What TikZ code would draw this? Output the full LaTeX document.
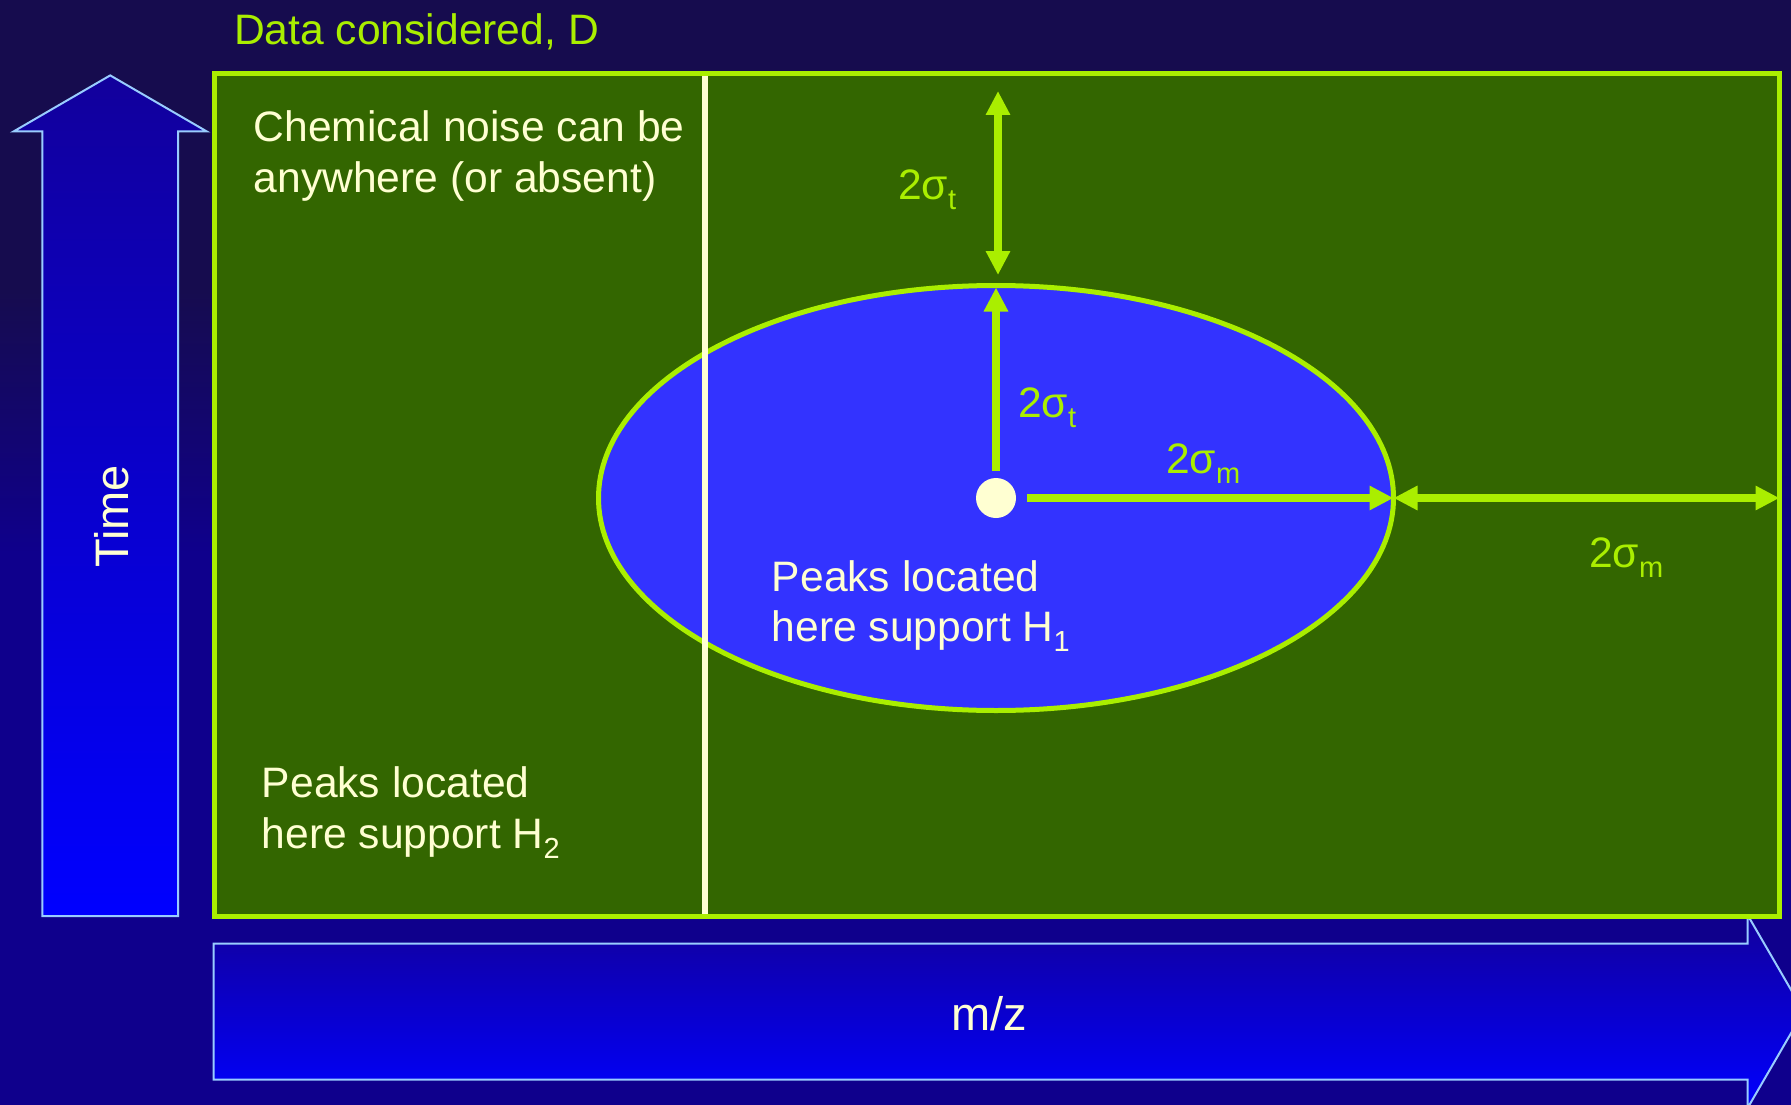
\documentclass[tikz,border=0pt]{standalone}
\usepackage{fontspec}
\setmainfont{Liberation Sans}
\usetikzlibrary{arrows.meta,shapes.geometric,calc}

\definecolor{bgtop}{HTML}{160C4E}
\definecolor{bgbot}{HTML}{0F008C}
\definecolor{plotgreen}{HTML}{336600}
\definecolor{lime}{HTML}{AAEE00}
\definecolor{peakblue}{HTML}{3333FF}
\definecolor{cream}{HTML}{FFFFD2}
\definecolor{axisedge}{HTML}{99CCFF}
\definecolor{axistop}{HTML}{12009C}
\definecolor{axisbot}{HTML}{0000FF}

% backdrop: dark violet above, deep blue below
\pgfdeclareverticalshading{backdrop}{100bp}{%
  color(0bp)=(bgbot); color(25bp)=(bgbot); color(50bp)=(bgbot);
  color(62bp)=(bgtop); color(75bp)=(bgtop); color(100bp)=(bgtop)}

% lowered subscript used in the labels
\newcommand\lowsub[2][29]{\raisebox{-10pt}{\fontsize{#1}{#1}\selectfont #2}}

\begin{document}
\begin{tikzpicture}[x=1pt,y=-1pt,
  axisarrow/.style={draw=axisedge, line width=2, top color=axistop, bottom color=axisbot},
  axislabel/.style={inner sep=0, text=cream, font=\fontsize{47}{56}\selectfont},
  bodytext/.style={inner sep=0, anchor=base west, text=cream, font=\fontsize{42.6}{51}\selectfont},
  limetext/.style={inner sep=0, anchor=base west, text=lime, font=\fontsize{42.6}{51}\selectfont},
  dimline/.style={draw=lime, line width=8, arrows={-Triangle[length=24,width=23]}},
  dimboth/.style={draw=lime, line width=8, arrows={Triangle[length=24,width=23]-Triangle[length=24,width=23]}},
  divider/.style={draw=cream, line width=6}]

\useasboundingbox (0,0) rectangle (1791,1105);
\clip (0,0) rectangle (1791,1105);
\fill[shading=backdrop] (0,0) rectangle (1791,1105);

% axis arrows
\path[axisarrow] (42.3,916) -- (42.3,131.4) -- (13.7,131.4) -- (110.2,75.4)
  -- (206.7,131.4) -- (178.2,131.4) -- (178.2,916) -- cycle;
\path[axisarrow] (213.6,943.5) -- (1747.6,943.5) -- (1747.6,915) -- (1803.6,1011.5)
  -- (1747.6,1108) -- (1747.6,1079.5) -- (213.6,1079.5) -- cycle;
\node[axislabel, rotate=90, anchor=base] (timelabel) at (128,516.5) {Time};
\node[axislabel, anchor=base] (mzlabel) at (989,1030) {m/z};

% data region
\node[limetext] (datatitle) at (234,45) {Data considered, D};
\node[draw=lime, line width=5, fill=plotgreen, rectangle, minimum width=1565,
  minimum height=843, inner sep=0, outer sep=0] (data) at (997,495) {};

% peak region
\node[ellipse, draw=lime, line width=5, fill=peakblue, minimum width=795,
  minimum height=425, inner sep=0, outer sep=0] (peak) at (996,498) {};

% boundary of the chemical noise strip
\coordinate (divtop) at (705,76);
\coordinate (divbot) at (705,914);
\draw[divider] (divtop) -- (divbot);

% peak centre
\node[circle, fill=cream, minimum size=40, inner sep=0] (dot) at (996,498) {};

% widths of the peak region
\coordinate (upA) at (998,275);
\coordinate (upB) at (998,91);
\draw[dimboth] (upA) -- (upB);
\coordinate (rise) at (996,471);
\coordinate (peaktop) at ($(peak.north)+(0,2)$);
\draw[dimline] (rise) -- (peaktop);
\coordinate (run) at (1027,498);
\draw[dimline] (run) -- (peak.east);
\coordinate (edge) at (peak.east -| data.east);
\draw[dimboth] (peak.east) -- (edge);

\node[limetext] (sigtA) at (898,199) {2σ\lowsub{t}};
\node[limetext] (sigtB) at (1018,417) {2σ\lowsub{t}};
\node[limetext] (sigmA) at (1166,473) {2σ\lowsub{m}};
\node[limetext] (sigmB) at (1589,567) {2σ\lowsub{m}};

% explanatory texts
\node[bodytext] (noiseA) at (253.6,141.5) {Chemical noise can be};
\node[bodytext] (noiseB) at (253.6,192.5) {anywhere (or absent)};
\node[bodytext] (htwoA) at (261.7,797) {Peaks located};
\node[bodytext] (htwoB) at (261.7,848) {here support H\lowsub{2}};
\node[bodytext] (honeA) at (771.7,591.7) {Peaks located};
\node[bodytext] (honeB) at (771.7,641) {here support H\lowsub{1}};
\end{tikzpicture}
\end{document}
